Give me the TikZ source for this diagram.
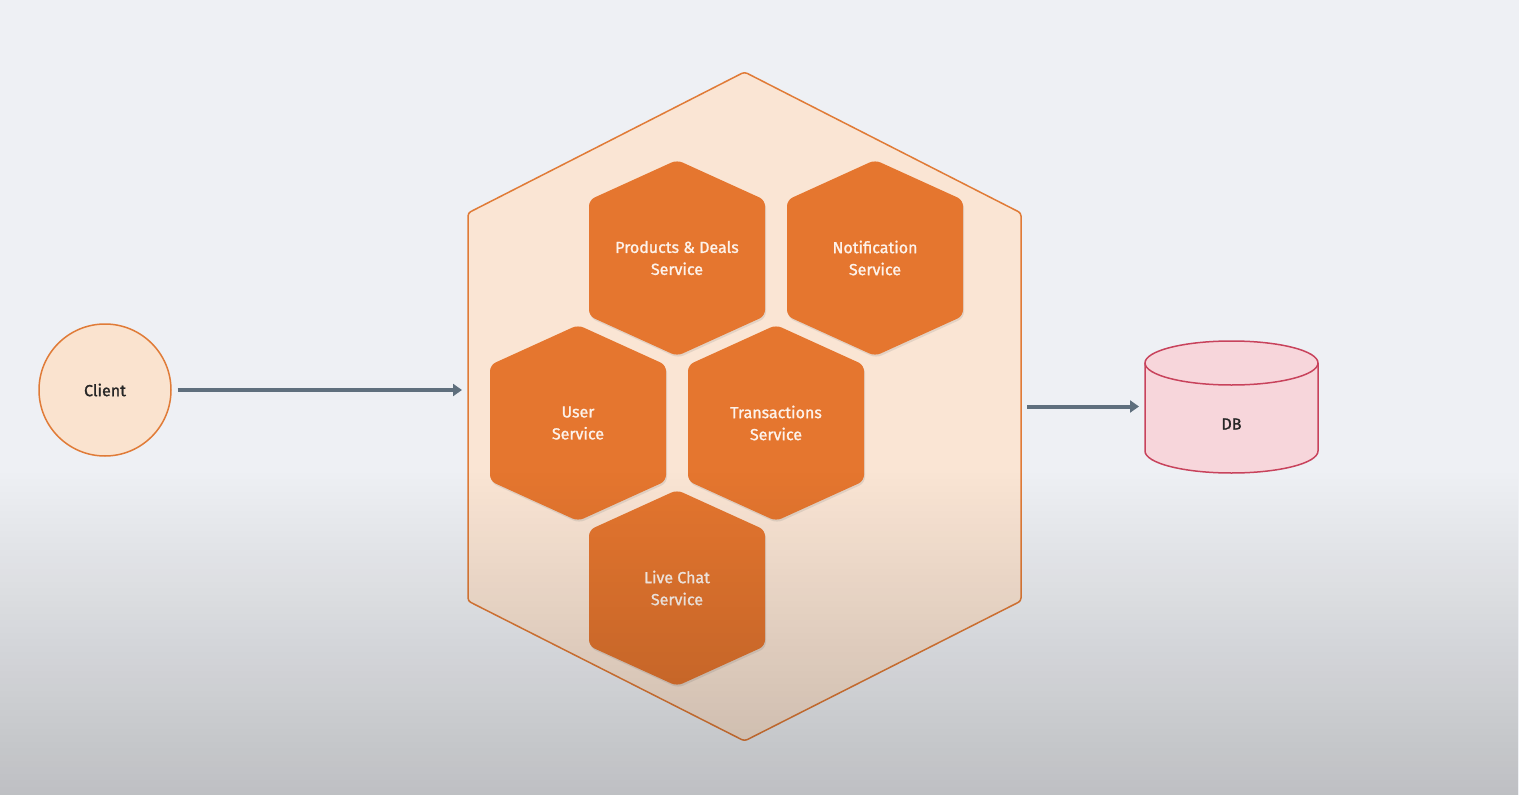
\documentclass[tikz,border=0pt]{standalone}
\usepackage{fontspec}
\setmainfont{Fira Sans}
\newfontfamily\medfont{Fira Sans}[FakeBold=1.3]
\usetikzlibrary{arrows.meta,shadows,fadings,positioning}
\definecolor{bgcol}{HTML}{EEF0F4}
\definecolor{hexline}{HTML}{E07B37}
\definecolor{hexfill}{HTML}{FAE5D4}
\definecolor{svcfill}{HTML}{E5762F}
\definecolor{svctext}{HTML}{FDF2EA}
\definecolor{arrowcol}{HTML}{5F6F7D}
\definecolor{dbfill}{HTML}{F7D6DB}
\definecolor{dbline}{HTML}{C8435C}
\definecolor{clientfill}{HTML}{FAE3CF}
\tikzset{
  apphex/.style={draw=hexline, fill=hexfill, line width=1.5pt, rounded corners=3pt},
  svchex/.style={fill=svcfill, rounded corners=6pt, drop shadow={opacity=0.18, shadow xshift=1pt, shadow yshift=-2pt}},
  svclabel/.style={text=svctext, align=center, font=\medfont\fontsize{16}{22}\selectfont},
  plainlabel/.style={text=black!85, font=\medfont\fontsize{16}{18}\selectfont},
  link/.style={draw=arrowcol, line width=4pt, -{Triangle[length=9pt,width=12pt]}},
  dbshape/.style={draw=dbline, fill=dbfill, line width=1.5pt},
}
\begin{document}
\begin{tikzpicture}[x=1pt,y=-1pt]
\useasboundingbox (0,0) rectangle (1519,795);
\fill[bgcol] (0,0) rectangle (1519,795);
\draw[apphex] (744.5,72) -- (1021,213) -- (1021,601) -- (744.5,741) -- (468,601) -- (468,213) -- cycle;
\node[minimum width=553pt, minimum height=669pt, outer sep=6pt] (app) at (744.5,406.5) {};
\foreach \name/\pos/\txt in {prod/{677,258}/{Products \& Deals\\Service},
                             notif/{875,258}/{Notification\\Service},
                             user/{578,423}/{User\\Service},
                             trans/{776,423}/{Transactions\\Service},
                             chat/{677,588}/{Live Chat\\Service}}
{
\fill[svchex, shift={(\pos)}] (0,-98) -- (88,-58) -- (88,58) -- (0,98) -- (-88,58) -- (-88,-58) -- cycle;
\node[svclabel] (\name) at (\pos) {\txt};
}
\node[circle, draw=hexline, fill=clientfill, line width=1.5pt, minimum size=132pt, outer sep=6.5pt, plainlabel] (client) at (105,390) {Client};
\node[minimum width=173pt, minimum height=132pt, outer sep=6pt] (db) at (1231.5,424) {};
\draw[dbshape] (1145,363) -- (1145,451) arc[start angle=180, end angle=360, x radius=86.5pt, y radius=22pt] -- (1318,363);
\draw[dbshape] (1231.5,363) ellipse [x radius=86.5pt, y radius=22pt];
\node[plainlabel] (dblabel) at (db.center) {DB};
\draw[link] (client.east) -- (client.east -| app.west);
\draw[link] (app.east) -- (app.east -| db.west);
\fill[black, fill opacity=0.2, path fading=north] (0,470) rectangle (1519,795);
\end{tikzpicture}
\end{document}
